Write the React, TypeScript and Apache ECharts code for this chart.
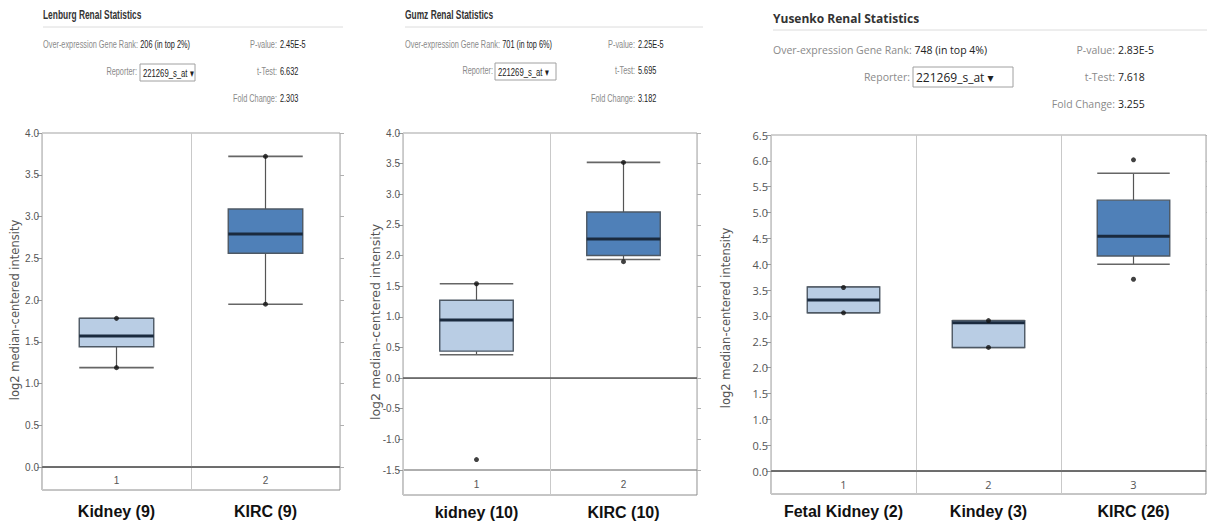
import React, { useEffect, useRef } from "react";
import * as echarts from "echarts";

// ---------- data ----------
const p1Title = "Lenburg Renal Statistics";
const p1Rank = "206 (in top 2%)";
const p1Stats = ["2.45E-5", "6.632", "2.303"];
const p1Categories = ["Kidney (9)", "KIRC (9)"];
const p1Boxes = [
  [1.19, 1.44, 1.57, 1.78, 1.78],
  [1.95, 2.56, 2.79, 3.09, 3.72],
];
const p1Points = [[0, 1.78], [0, 1.19], [1, 3.72], [1, 1.95]];
const p1YRange = [0, 4];

const p2Title = "Gumz Renal Statistics";
const p2Rank = "701 (in top 6%)";
const p2Stats = ["2.25E-5", "5.695", "3.182"];
const p2Categories = ["kidney (10)", "KIRC (10)"];
const p2Boxes = [
  [0.38, 0.44, 0.95, 1.27, 1.54],
  [1.935, 2.0, 2.27, 2.71, 3.52],
];
const p2Points = [[0, 1.54], [0, -1.33], [1, 3.52], [1, 1.9]];
const p2YRange = [-1.5, 4];

const p3Title = "Yusenko Renal Statistics";
const p3Rank = "748 (in top 4%)";
const p3Stats = ["2.83E-5", "7.618", "3.255"];
const p3Categories = ["Fetal Kidney (2)", "Kindey (3)", "KIRC (26)"];
const p3Boxes = [
  [3.06, 3.06, 3.31, 3.56, 3.56],
  [2.39, 2.39, 2.87, 2.91, 2.91],
  [4.0, 4.16, 4.54, 5.24, 5.76],
];
const p3Points = [[0, 3.55], [0, 3.06], [1, 2.91], [1, 2.39], [2, 6.02], [2, 3.71]];
const p3YRange = [0, 6.5];

const reporterName = "221269_s_at";
const yAxisTitle = "log2 median-centered intensity";
const statLabels = ["P-value:", "t-Test:", "Fold Change:"];

// ---------- styles ----------
const ARIAL = '"Liberation Sans", Arial, sans-serif';
const WIDE = '"Open Sans", "DejaVu Sans", sans-serif';
const LIGHT = "#b9cde4";
const DARK = "#4f80b8";

const panels = [
  {
    title: p1Title, rank: p1Rank, stats: p1Stats, categories: p1Categories, boxes: p1Boxes, points: p1Points, yRange: p1YRange,
    left: 42, top: 133, width: 298, height: 334, strip: 23, numMargin: 8, nameMargin: 13,
    tickFont: 10, tickFamily: ARIAL,
    head: { x: 43, family: ARIAL, sx: 0.7, titleY: 15, titleSize: 12, lineY: 27, lineX2: 343, rows: [45, 72, 99], rowFont: 10.5, colonX: 277, repRight: 137, box: [140, 64, 55, 17], boxFont: 11 },
    yName: { x: 15, y: 310, size: 11.5 },
  },
  {
    title: p2Title, rank: p2Rank, stats: p2Stats, categories: p2Categories, boxes: p2Boxes, points: p2Points, yRange: p2YRange,
    left: 403, top: 133, width: 294, height: 337, strip: 25, numMargin: 9, nameMargin: 9,
    tickFont: 10, tickFamily: ARIAL,
    head: { x: 405, family: ARIAL, sx: 0.7, titleY: 15, titleSize: 12, lineY: 27, lineX2: 703, rows: [45, 71, 99], rowFont: 10.5, colonX: 635, repRight: 493, box: [495, 63, 61, 17], boxFont: 11 },
    yName: { x: 375, y: 322, size: 12.5 },
  },
  {
    title: p3Title, rank: p3Rank, stats: p3Stats, categories: p3Categories, boxes: p3Boxes, points: p3Points, yRange: p3YRange,
    left: 771, top: 135, width: 435, height: 336, strip: 23, numMargin: 8, nameMargin: 9,
    tickFont: 11, tickFamily: WIDE,
    head: { x: 773, family: WIDE, sx: 1, titleY: 18, titleSize: 12, lineY: 30, lineX2: 1207, rows: [50, 77, 104], rowFont: 10.5, colonX: 1115, repRight: 910, box: [913, 67, 100, 20], boxFont: 12 },
    yName: { x: 726, y: 318, size: 11.5 },
  },
];

function txt(x: number, y: number, text: string, o: any) {
  return {
    type: "text",
    x,
    y,
    silent: true,
    scaleX: o.sx || 1,
    rotation: o.rotation || 0,
    style: {
      text,
      fill: o.fill || "#333",
      fontSize: o.size,
      fontFamily: o.family,
      fontWeight: o.weight || "normal",
      textAlign: o.align || "left",
      align: o.align || "left",
      textVerticalAlign: "middle",
      verticalAlign: "middle",
      rich: o.rich,
    },
  };
}

function buildOption() {
  const grid: any[] = [];
  const xAxis: any[] = [];
  const yAxis: any[] = [];
  const series: any[] = [];
  const graphic: any[] = [];

  panels.forEach((p) => {
    const g = grid.length;
    grid.push({ left: p.left, top: p.top, width: p.width, height: p.height, show: true, borderColor: "#a3a3a3", borderWidth: 1 });
    grid.push({ left: p.left, top: p.top + p.height, width: p.width, height: p.strip, show: true, borderColor: "#8c8c8c", borderWidth: 1 });

    const xi = xAxis.length;
    xAxis.push({
      type: "category", gridIndex: g, boundaryGap: true,
      data: p.categories.map((_, i) => String(i + 1)),
      axisLine: { show: true, lineStyle: { color: "#a3a3a3", width: 1 } },
      axisTick: { show: false },
      axisLabel: { interval: 0, margin: p.numMargin, color: "#555", fontSize: p.tickFont, fontFamily: p.tickFamily },
      splitLine: { show: true, lineStyle: { color: "#c9c9c9", width: 1 } },
    });
    xAxis.push({
      type: "category", gridIndex: g + 1, boundaryGap: true,
      data: p.categories,
      axisLine: { show: false }, axisTick: { show: false },
      axisLabel: { interval: 0, margin: p.nameMargin, color: "#111", fontSize: 16, fontWeight: "bold", fontFamily: ARIAL },
      splitLine: { show: true, lineStyle: { color: "#c9c9c9", width: 1 } },
    });

    const yi = yAxis.length;
    yAxis.push({
      type: "value", gridIndex: g, min: p.yRange[0], max: p.yRange[1], interval: 0.5,
      axisLine: { show: false },
      axisTick: { show: true, length: 5, lineStyle: { color: "#9a9a9a" } },
      axisLabel: { formatter: (v: number) => v.toFixed(1), color: "#555", fontSize: p.tickFont, fontFamily: p.tickFamily, margin: 3 },
      splitLine: { show: false },
    });
    yAxis.push({
      type: "value", gridIndex: g, position: "right", min: p.yRange[0], max: p.yRange[1], interval: 0.5,
      axisLine: { show: false },
      axisTick: { show: true, length: 4, lineStyle: { color: "#b0b0b0" } },
      axisLabel: { show: false },
      splitLine: { show: false },
    });
    yAxis.push({ type: "value", gridIndex: g + 1, min: 0, max: 1, show: false });

    const cats = p.categories;
    series.push({
      type: "custom",
      xAxisIndex: xi,
      yAxisIndex: yi,
      data: p.boxes.map((b, i) => [i, ...b]),
      encode: { x: 0, y: [1, 2, 3, 4, 5] },
      renderItem: (params: any, api: any) => {
        const idx = api.value(0);
        const v = [1, 2, 3, 4, 5].map((d) => api.value(d));
        const pts = v.map((val) => api.coord([idx, val]));
        const cx = pts[0][0];
        const band = api.size([1, 0])[0];
        const half = band * 0.25;
        const fill = cats[idx].indexOf("KIRC") >= 0 ? DARK : LIGHT;
        const ws = { stroke: "#555", lineWidth: 1.2 };
        return {
          type: "group",
          children: [
            { type: "line", shape: { x1: cx, y1: pts[4][1], x2: cx, y2: pts[3][1] }, style: ws },
            { type: "line", shape: { x1: cx, y1: pts[1][1], x2: cx, y2: pts[0][1] }, style: ws },
            { type: "line", shape: { x1: cx - half, y1: pts[4][1], x2: cx + half, y2: pts[4][1] }, style: { stroke: "#666", lineWidth: 1.6 } },
            { type: "line", shape: { x1: cx - half, y1: pts[0][1], x2: cx + half, y2: pts[0][1] }, style: { stroke: "#666", lineWidth: 1.6 } },
            {
              type: "rect",
              shape: { x: cx - half, y: pts[3][1], width: half * 2, height: Math.max(pts[1][1] - pts[3][1], 0.5) },
              style: { fill, stroke: "#4d5864", lineWidth: 1.4 },
            },
            { type: "line", shape: { x1: cx - half, y1: pts[2][1], x2: cx + half, y2: pts[2][1] }, style: { stroke: "#1a2a3e", lineWidth: 3 } },
          ],
        };
      },
      markLine: {
        silent: true,
        symbol: ["none", "none"],
        label: { show: false },
        lineStyle: { color: "#5a5a5a", width: 1.6, type: "solid" },
        data: [{ yAxis: 0 }],
      },
      z: 3,
    });
    series.push({
      type: "scatter",
      xAxisIndex: xi,
      yAxisIndex: yi,
      data: p.points,
      symbolSize: 5,
      itemStyle: { color: "#111" },
      z: 5,
    });

    // header
    const h = p.head;
    const f = h.family;
    graphic.push(txt(h.x, h.titleY, p.title, { size: h.titleSize, family: f, weight: "bold", fill: "#333", sx: h.sx }));
    graphic.push({ type: "line", silent: true, shape: { x1: h.x, y1: h.lineY, x2: h.lineX2, y2: h.lineY }, style: { stroke: "#dcdcdc", lineWidth: 1 } });
    graphic.push(
      txt(h.x, h.rows[0], `{l|Over-expression Gene Rank:} {v|${p.rank}}`, {
        size: h.rowFont, family: f, fill: "#888", sx: h.sx,
        rich: {
          l: { fill: "#8a8a8a", color: "#8a8a8a", fontSize: h.rowFont, fontFamily: f },
          v: { fill: "#222", color: "#222", fontSize: h.rowFont, fontFamily: f },
        },
      })
    );
    statLabels.forEach((lab, i) => {
      graphic.push(txt(h.colonX, h.rows[i], lab, { size: h.rowFont, family: f, fill: "#8a8a8a", align: "right", sx: h.sx }));
      graphic.push(txt(h.colonX + 3, h.rows[i], p.stats[i], { size: h.rowFont, family: f, fill: "#222", sx: h.sx }));
    });
    graphic.push(txt(h.repRight, h.rows[1], "Reporter:", { size: h.rowFont, family: f, fill: "#8a8a8a", align: "right", sx: h.sx }));
    graphic.push({
      type: "rect", silent: true,
      shape: { x: h.box[0], y: h.box[1], width: h.box[2], height: h.box[3] },
      style: { fill: "#fff", stroke: "#a0a0a0", lineWidth: 1 },
    });
    graphic.push(txt(h.box[0] + 3, h.box[1] + h.box[3] / 2, `${reporterName} \u25BE`, { size: h.boxFont, family: f, fill: "#222", sx: h.sx }));

    // y axis title
    graphic.push(
      txt(p.yName.x, p.yName.y, yAxisTitle, {
        size: p.yName.size, family: '"DejaVu Sans", Verdana, sans-serif', fill: "#555", align: "center", rotation: Math.PI / 2,
      })
    );
  });

  return {
    animation: false,
    backgroundColor: "#ffffff",
    grid,
    xAxis,
    yAxis,
    series,
    graphic: { elements: graphic },
  };
}

export default function App() {
  const ref = useRef<HTMLDivElement>(null);
  useEffect(() => {
    if (!ref.current) return;
    const chart = echarts.init(ref.current, undefined, { renderer: "svg" });
    chart.setOption(buildOption() as any);
    return () => chart.dispose();
  }, []);
  return (
    <div
      ref={ref}
      style={{ position: "fixed", left: 0, top: 0, width: 1207, height: 529, background: "#fff" }}
    />
  );
}
